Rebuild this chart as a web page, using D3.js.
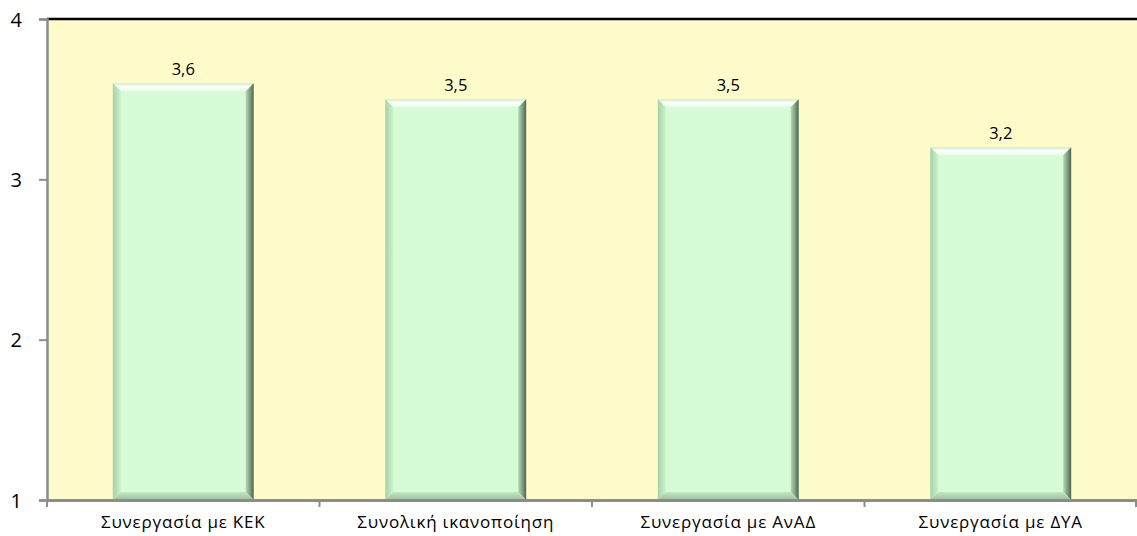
<!DOCTYPE html>
<html><head><meta charset="utf-8">
<script src="https://cdn.jsdelivr.net/npm/d3@7"></script>
<style>body{margin:0;background:#fff;} svg{display:block;} text{font-family:"Open Sans",sans-serif;}</style>
</head><body>
<script>
const categories = ["Συνεργασία με ΚΕΚ","Συνολική ικανοποίηση","Συνεργασία με ΑνΑΔ","Συνεργασία με ΔΥΑ"];
const values = [3.6, 3.5, 3.5, 3.2];
const valueLabels = ["3,6","3,5","3,5","3,2"];
const yTicks = [1,2,3,4];

const W = 1137, H = 536;
const m = {left:47, right:0, top:19, bottom:36};
const svg = d3.select("body").append("svg").attr("width",W).attr("height",H);
const x = d3.scaleBand().domain(categories).range([m.left, W-m.right]).paddingInner(0.483).paddingOuter(0.2415);
const y = d3.scaleLinear().domain([1,4]).range([H-m.bottom, m.top]);

const defs = svg.append("defs");
function lg(id, x1,y1,x2,y2, stops){
  const g = defs.append("linearGradient").attr("id",id).attr("x1",x1).attr("y1",y1).attr("x2",x2).attr("y2",y2);
  stops.forEach(s=>g.append("stop").attr("offset",s[0]).attr("stop-color",s[1]));
}
lg("gTop",0,0,0,1,[[0,"#c9efc9"],[0.45,"#ffffff"],[1,"#e6fbe6"]]);
lg("gLeft",0,0,1,0,[[0,"#a9cfa9"],[1,"#cdf3cd"]]);
lg("gRight",0,0,1,0,[[0,"#b7d9b7"],[0.6,"#7a987a"],[1,"#4e644e"]]);
lg("gBot",0,0,0,1,[[0,"#c3e6c3"],[1,"#9fc09f"]]);

svg.append("rect").attr("x",m.left).attr("y",y(4)).attr("width",W-m.right-m.left).attr("height",y(1)-y(4)).attr("fill","#fffccc");

const b = 8;
const g = svg.append("g");
categories.forEach((c,i)=>{
  const x0 = x(c), x1 = x0 + x.bandwidth(), y0 = y(values[i]), y1 = y(1);
  const bg = g.append("g");
  bg.append("rect").attr("x",x0).attr("y",y0).attr("width",x1-x0).attr("height",y1-y0).attr("fill","#d6fcd6");
  bg.append("polygon").attr("points",[[x0,y0],[x1,y0],[x1-b,y0+b],[x0+b,y0+b]].join(" ")).attr("fill","url(#gTop)");
  bg.append("polygon").attr("points",[[x0,y0],[x0+b,y0+b],[x0+b,y1-b],[x0,y1]].join(" ")).attr("fill","url(#gLeft)");
  bg.append("polygon").attr("points",[[x1,y0],[x1,y1],[x1-b,y1-b],[x1-b,y0+b]].join(" ")).attr("fill","url(#gRight)");
  bg.append("polygon").attr("points",[[x0,y1],[x0+b,y1-b],[x1-b,y1-b],[x1,y1]].join(" ")).attr("fill","url(#gBot)");
  svg.append("text").attr("x",x0+(x1-x0)/2).attr("y",y0-8).attr("text-anchor","middle")
    .style("font-size","16.5px").attr("fill","#000").text(valueLabels[i]);
});

svg.append("line").attr("x1",m.left).attr("x2",W).attr("y1",y(4)).attr("y2",y(4)).attr("stroke","#000").attr("stroke-width",2.5);

const ya = svg.append("g").attr("transform",`translate(${m.left},0)`)
  .call(d3.axisLeft(y).tickValues(yTicks).tickSize(8).tickFormat(d3.format("d")));
ya.attr("font-family",null).attr("font-size",null);
ya.select(".domain").attr("stroke","#8c8c8c").attr("stroke-width",2.5);
ya.selectAll(".tick line").attr("stroke","#8c8c8c").attr("stroke-width",2);
ya.selectAll(".tick text").style("font-size","20px").attr("fill","#000").attr("x",-25).attr("dy","0.35em");

const xa = svg.append("g").attr("transform",`translate(0,${y(1)})`)
  .call(d3.axisBottom(x).tickSize(0));
xa.attr("font-family",null).attr("font-size",null);
xa.select(".domain").attr("stroke","#8c8c8c").attr("stroke-width",3);
xa.selectAll(".tick text").style("font-size","17px").style("letter-spacing","0.8px").attr("fill","#000").attr("y",28).attr("dy",0);
const bounds = categories.map((c,i)=>m.left + i*(W-m.left-m.right)/categories.length).concat([W-1]);
xa.selectAll("line.bt").data(bounds).enter().append("line").attr("class","bt")
  .attr("x1",d=>d).attr("x2",d=>d).attr("y1",0).attr("y2",7).attr("stroke","#8c8c8c").attr("stroke-width",2);
</script>
</body></html>
